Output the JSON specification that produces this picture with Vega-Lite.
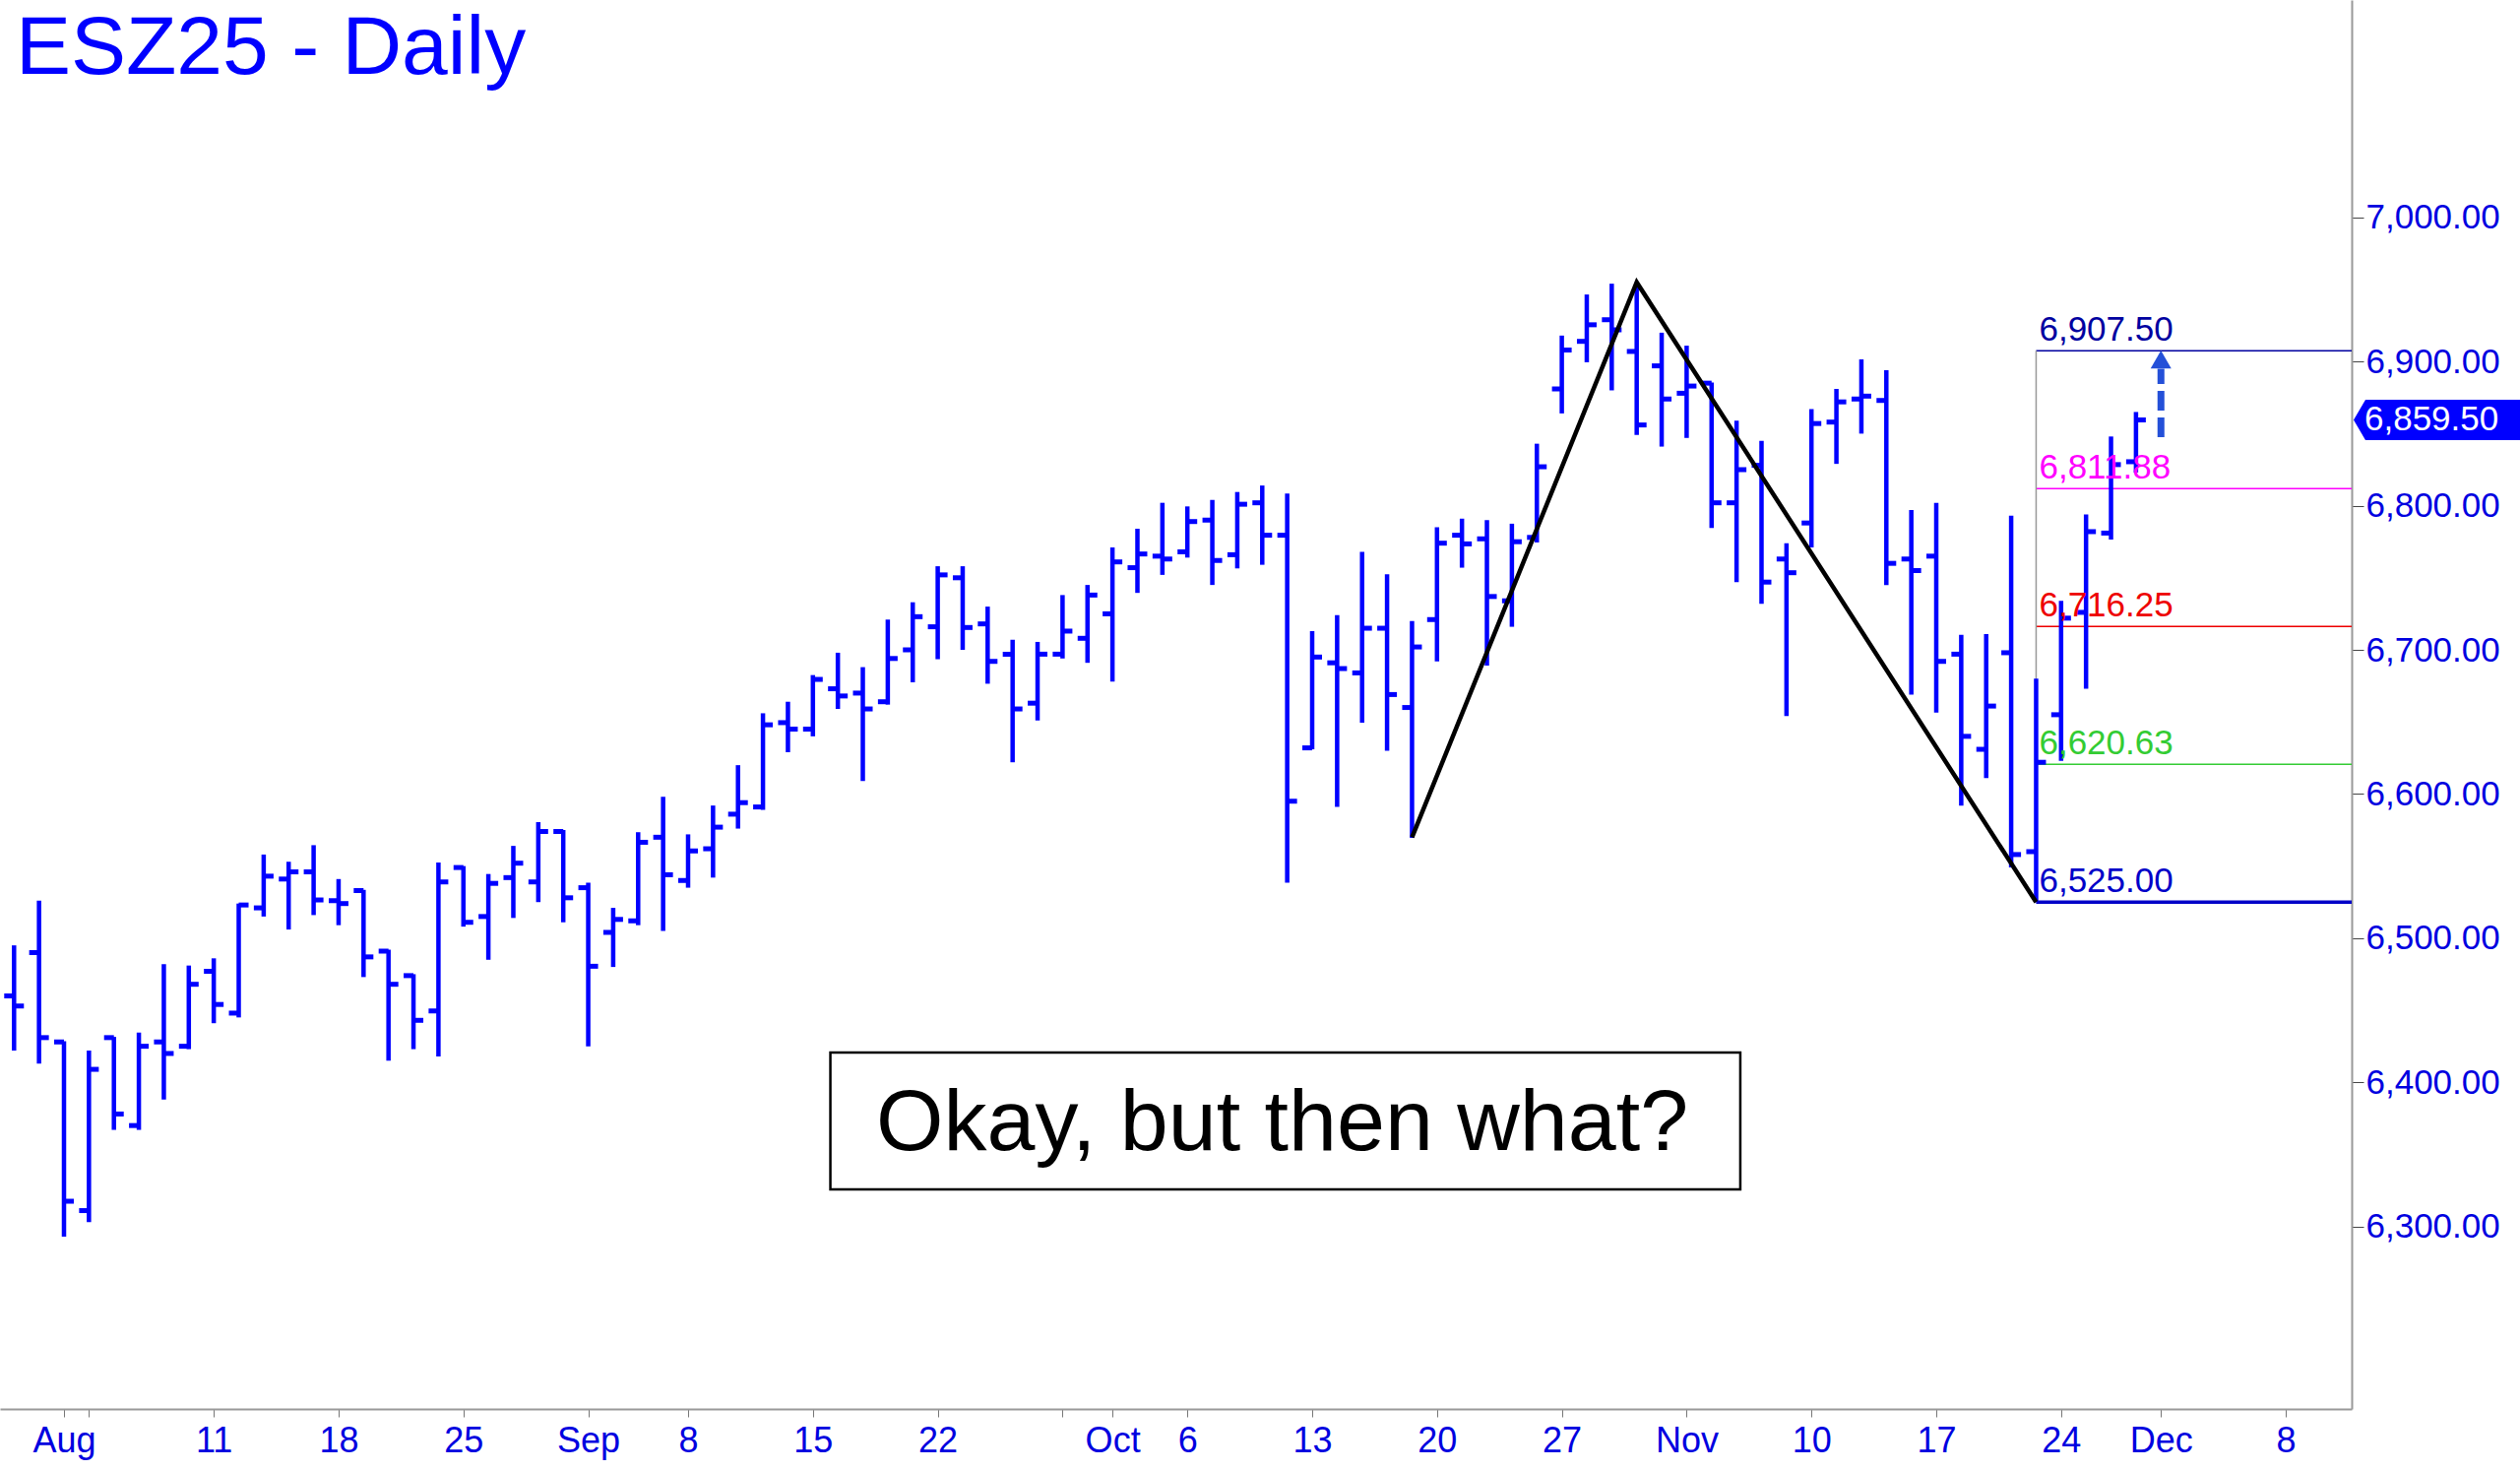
{
  "$schema": "https://vega.github.io/schema/vega-lite/v6.json",
  "width": 2389,
  "height": 1431,
  "autosize": {"type": "none"},
  "padding": {"left": 0, "top": 0, "right": 171, "bottom": 62},
  "background": "white",
  "config": {"view": {"stroke": null}, "font": "Liberation Sans"},
  "datasets": {
    "bars": [
      {"n": -2, "o": 6460, "h": 6495, "l": 6422, "c": 6453},
      {"n": -1, "o": 6490, "h": 6526, "l": 6413, "c": 6431},
      {"n": 0, "o": 6428, "h": 6428.5, "l": 6293, "c": 6317.5},
      {"n": 1, "o": 6311, "h": 6422, "l": 6303, "c": 6409},
      {"n": 2, "o": 6431, "h": 6431.5, "l": 6367, "c": 6378},
      {"n": 3, "o": 6370, "h": 6434.5, "l": 6367, "c": 6425},
      {"n": 4, "o": 6428, "h": 6482, "l": 6388, "c": 6420},
      {"n": 5, "o": 6425, "h": 6481, "l": 6423, "c": 6468},
      {"n": 6, "o": 6477, "h": 6486, "l": 6441, "c": 6454},
      {"n": 7, "o": 6448, "h": 6524, "l": 6445, "c": 6523},
      {"n": 8, "o": 6521, "h": 6558, "l": 6515, "c": 6543},
      {"n": 9, "o": 6541, "h": 6553, "l": 6506, "c": 6546},
      {"n": 10, "o": 6546, "h": 6564.5, "l": 6516, "c": 6526.5},
      {"n": 11, "o": 6526, "h": 6541, "l": 6509, "c": 6524},
      {"n": 12, "o": 6533, "h": 6533.5, "l": 6473, "c": 6487},
      {"n": 13, "o": 6491, "h": 6492, "l": 6415, "c": 6468},
      {"n": 14, "o": 6474, "h": 6475, "l": 6423, "c": 6443},
      {"n": 15, "o": 6449.5, "h": 6552.5, "l": 6418, "c": 6539},
      {"n": 16, "o": 6549, "h": 6550, "l": 6508, "c": 6511},
      {"n": 17, "o": 6515, "h": 6544.5, "l": 6485, "c": 6538},
      {"n": 18, "o": 6542, "h": 6564, "l": 6514, "c": 6552},
      {"n": 19, "o": 6539, "h": 6580.5, "l": 6525, "c": 6574},
      {"n": 20, "o": 6574, "h": 6575, "l": 6511, "c": 6528},
      {"n": 21, "o": 6535, "h": 6538.5, "l": 6425, "c": 6480.5},
      {"n": 22, "o": 6504, "h": 6521, "l": 6480, "c": 6513},
      {"n": 23, "o": 6512, "h": 6573.5, "l": 6509, "c": 6566.5},
      {"n": 24, "o": 6570, "h": 6598, "l": 6505, "c": 6544},
      {"n": 25, "o": 6540, "h": 6572, "l": 6535, "c": 6560.5},
      {"n": 26, "o": 6562, "h": 6592, "l": 6542, "c": 6577},
      {"n": 27, "o": 6586, "h": 6620, "l": 6576, "c": 6594},
      {"n": 28, "o": 6591, "h": 6656, "l": 6589, "c": 6648},
      {"n": 29, "o": 6649.5, "h": 6664, "l": 6629, "c": 6645},
      {"n": 30, "o": 6645, "h": 6682.5, "l": 6640, "c": 6679.5},
      {"n": 31, "o": 6673, "h": 6698, "l": 6659, "c": 6668},
      {"n": 32, "o": 6670, "h": 6688, "l": 6609, "c": 6659},
      {"n": 33, "o": 6664, "h": 6721, "l": 6662, "c": 6694},
      {"n": 34, "o": 6700, "h": 6733, "l": 6677.5, "c": 6723},
      {"n": 35, "o": 6716, "h": 6758, "l": 6693.5, "c": 6752},
      {"n": 36, "o": 6750, "h": 6758, "l": 6700, "c": 6715.5},
      {"n": 37, "o": 6718, "h": 6730, "l": 6676.5, "c": 6692},
      {"n": 38, "o": 6697, "h": 6707, "l": 6622, "c": 6659},
      {"n": 39, "o": 6663, "h": 6705.5, "l": 6651, "c": 6697},
      {"n": 40, "o": 6697, "h": 6738, "l": 6694, "c": 6713},
      {"n": 41, "o": 6708, "h": 6745, "l": 6691, "c": 6738},
      {"n": 42, "o": 6725, "h": 6771, "l": 6678, "c": 6761},
      {"n": 43, "o": 6757, "h": 6784, "l": 6739.5, "c": 6766.5},
      {"n": 44, "o": 6765, "h": 6802, "l": 6752, "c": 6763},
      {"n": 45, "o": 6768, "h": 6799.5, "l": 6764, "c": 6789},
      {"n": 46, "o": 6790, "h": 6804, "l": 6745, "c": 6762},
      {"n": 47, "o": 6766, "h": 6809.5, "l": 6756.5, "c": 6801},
      {"n": 48, "o": 6802, "h": 6814, "l": 6759, "c": 6779.5},
      {"n": 49, "o": 6779.5, "h": 6808.5, "l": 6538.5, "c": 6595},
      {"n": 50, "o": 6632, "h": 6713, "l": 6631, "c": 6695},
      {"n": 51, "o": 6691, "h": 6724, "l": 6591, "c": 6687},
      {"n": 52, "o": 6684, "h": 6768, "l": 6649.5, "c": 6715},
      {"n": 53, "o": 6715, "h": 6752.5, "l": 6630, "c": 6669},
      {"n": 54, "o": 6660, "h": 6720, "l": 6569.5, "c": 6702},
      {"n": 55, "o": 6721, "h": 6785, "l": 6692, "c": 6774},
      {"n": 56, "o": 6779.5, "h": 6791, "l": 6757, "c": 6773.5},
      {"n": 57, "o": 6777, "h": 6790, "l": 6689, "c": 6737},
      {"n": 58, "o": 6734, "h": 6787.5, "l": 6716, "c": 6775},
      {"n": 59, "o": 6778, "h": 6843, "l": 6774.5, "c": 6827},
      {"n": 60, "o": 6881, "h": 6918, "l": 6864, "c": 6908},
      {"n": 61, "o": 6914, "h": 6946.5, "l": 6899.5, "c": 6925.5},
      {"n": 62, "o": 6929, "h": 6954, "l": 6880, "c": 6922},
      {"n": 63, "o": 6907, "h": 6955, "l": 6849, "c": 6856},
      {"n": 64, "o": 6897, "h": 6920, "l": 6841, "c": 6874},
      {"n": 65, "o": 6878, "h": 6911, "l": 6847, "c": 6883},
      {"n": 66, "o": 6885, "h": 6885.5, "l": 6784.5, "c": 6802},
      {"n": 67, "o": 6802, "h": 6859, "l": 6747, "c": 6825},
      {"n": 68, "o": 6828, "h": 6845, "l": 6732, "c": 6747},
      {"n": 69, "o": 6763, "h": 6774, "l": 6654, "c": 6753.5},
      {"n": 70, "o": 6788, "h": 6867, "l": 6771, "c": 6857},
      {"n": 71, "o": 6858, "h": 6881, "l": 6829, "c": 6872},
      {"n": 72, "o": 6874, "h": 6901.5, "l": 6850, "c": 6876},
      {"n": 73, "o": 6873, "h": 6894, "l": 6745, "c": 6760},
      {"n": 74, "o": 6763, "h": 6797, "l": 6669, "c": 6755},
      {"n": 75, "o": 6765, "h": 6802, "l": 6656.5, "c": 6692},
      {"n": 76, "o": 6697, "h": 6710.5, "l": 6592, "c": 6640},
      {"n": 77, "o": 6631, "h": 6711, "l": 6611, "c": 6661},
      {"n": 78, "o": 6698, "h": 6793, "l": 6549, "c": 6558},
      {"n": 79, "o": 6560, "h": 6680, "l": 6525, "c": 6622},
      {"n": 80, "o": 6655, "h": 6734, "l": 6623, "c": 6722},
      {"n": 81, "o": 6726, "h": 6794, "l": 6673, "c": 6782},
      {"n": 82, "o": 6781, "h": 6848, "l": 6776.5, "c": 6828.5},
      {"n": 83, "o": 6830.5, "h": 6865, "l": 6823, "c": 6859.5}
    ],
    "levels": [
      {"name": "target", "start": 79, "v": 6907.5},
      {"name": "upper", "start": 79, "v": 6811.88},
      {"name": "middle", "start": 79, "v": 6716.25},
      {"name": "lower", "start": 79, "v": 6620.63},
      {"name": "low", "start": 79, "v": 6525}
    ],
    "zig": [
      {"ord": 1, "n": 54, "p": 6570},
      {"ord": 2, "n": 63, "p": 6955},
      {"ord": 3, "n": 79, "p": 6525}
    ],
    "proj": [{"n": 84, "from": 6847.5, "to": 6895, "target": 6907.5}],
    "note": [{"x0": 30.7, "x1": 67.15, "top": 6420.6, "bot": 6325.7, "cx": 48.8, "base": 6352.8, "txt": "Okay, but then what?"}],
    "heading": [{"n": -1.932, "p": 7099.6, "txt": "ESZ25 - Daily"}]
  },
  "layer": [
    {
      "data": {"name": "levels"},
      "mark": {"type": "rule"},
      "encoding": {
        "x": {"field": "start", "type": "quantitative",
          "scale": {"domain": [-2.563, 91.64], "nice": false, "zero": false},
          "axis": {"orient": "bottom", "values": [0, 1, 6, 11, 16, 21, 25, 30, 35, 40, 42, 45, 50, 55, 60, 65, 70, 75, 80, 84, 89],
            "labelExpr": "['Aug','','11','18','25','Sep','8','15','22','','Oct','6','13','20','27','Nov','10','17','24','Dec','8'][indexof([0,1,6,11,16,21,25,30,35,40,42,45,50,55,60,65,70,75,80,84,89], datum.value)]",
            "title": null, "grid": false, "labelFontSize": 36, "labelColor": "#0000E0", "labelFont": "Liberation Sans",
            "labelPadding": 7, "tickSize": 8, "tickColor": "#777777", "tickWidth": 1, "domainColor": "#999999", "domainWidth": 2,
            "labelOverlap": false, "labelFlush": false, "labelBound": false,
            "encode": {"ticks": {"update": {"y2": {"signal": "indexof([0,21,42,65,84], datum.value) >= 0 ? 19 : 8"}}}}}},
        "x2": {"value": "width"},
        "y": {"field": "v", "type": "quantitative",
          "scale": {"domain": [6173.4, 7150.8], "nice": false, "zero": false},
          "axis": {"orient": "right", "values": [6300, 6400, 6500, 6600, 6700, 6800, 6900, 7000], "format": ",.2f",
            "title": null, "grid": false, "labelFontSize": 35, "labelColor": "#0000E0", "labelFont": "Liberation Sans",
            "tickSize": 12, "tickColor": "#444444", "tickWidth": 1, "domainColor": "#999999", "domainWidth": 2,
            "labelPadding": 2, "labelBound": false, "labelFlush": false, "labelOverlap": false}},
        "color": {"field": "name", "type": "nominal", "legend": null,
          "scale": {"domain": ["target", "upper", "middle", "lower", "low"], "range": ["#0000A0", "#FF00FF", "#EE0000", "#33CC33", "#0000C8"]}},
        "strokeWidth": {"condition": {"test": "datum.name === 'low'", "value": 3.5}, "value": 1.5}
      }
    },
    {
      "data": {"values": [{"n": 79, "lo": 6525, "hi": 6907.5}]},
      "mark": {"type": "rule", "color": "#999999", "strokeWidth": 1.5},
      "encoding": {
        "x": {"field": "n", "type": "quantitative"},
        "y": {"field": "lo", "type": "quantitative"},
        "y2": {"field": "hi"}
      }
    },
    {
      "data": {"name": "bars"},
      "mark": {"type": "rule", "color": "#0000FF", "strokeWidth": 4.5},
      "encoding": {
        "x": {"field": "n", "type": "quantitative"},
        "y": {"field": "l", "type": "quantitative"},
        "y2": {"field": "h"}
      }
    },
    {
      "data": {"name": "bars"},
      "mark": {"type": "tick", "orient": "horizontal", "size": 10, "thickness": 5, "xOffset": -5, "color": "#0000FF", "opacity": 1},
      "encoding": {
        "x": {"field": "n", "type": "quantitative"},
        "y": {"field": "o", "type": "quantitative"}
      }
    },
    {
      "data": {"name": "bars"},
      "mark": {"type": "tick", "orient": "horizontal", "size": 10, "thickness": 5, "xOffset": 5, "color": "#0000FF", "opacity": 1},
      "encoding": {
        "x": {"field": "n", "type": "quantitative"},
        "y": {"field": "c", "type": "quantitative"}
      }
    },
    {
      "data": {"name": "zig"},
      "mark": {"type": "line", "color": "#000000", "strokeWidth": 4.5},
      "encoding": {
        "x": {"field": "n", "type": "quantitative"},
        "y": {"field": "p", "type": "quantitative"},
        "order": {"field": "ord"}
      }
    },
    {
      "data": {"name": "proj"},
      "mark": {"type": "rule", "color": "#2450D8", "strokeWidth": 7, "strokeDash": [20, 7]},
      "encoding": {
        "x": {"field": "n", "type": "quantitative"},
        "y": {"field": "from", "type": "quantitative"},
        "y2": {"field": "to"}
      }
    },
    {
      "data": {"name": "proj"},
      "mark": {"type": "point", "shape": "triangle-up", "size": 441, "filled": true, "opacity": 1, "color": "#2450D8", "yOffset": 9},
      "encoding": {
        "x": {"field": "n", "type": "quantitative"},
        "y": {"field": "target", "type": "quantitative"}
      }
    },
    {
      "data": {"name": "levels"},
      "mark": {"type": "text", "align": "left", "baseline": "alphabetic", "dx": 3, "dy": -10, "fontSize": 35, "font": "Liberation Sans"},
      "encoding": {
        "x": {"field": "start", "type": "quantitative"},
        "y": {"field": "v", "type": "quantitative"},
        "text": {"field": "v", "type": "quantitative", "format": ",.2f"},
        "color": {"field": "name", "type": "nominal", "legend": null}
      }
    },
    {
      "data": {"name": "note"},
      "mark": {"type": "rect", "fill": "white", "stroke": "#000000", "strokeWidth": 2.5},
      "encoding": {
        "x": {"field": "x0", "type": "quantitative"},
        "x2": {"field": "x1"},
        "y": {"field": "top", "type": "quantitative"},
        "y2": {"field": "bot"}
      }
    },
    {
      "data": {"name": "note"},
      "mark": {"type": "text", "align": "center", "baseline": "alphabetic", "fontSize": 88, "font": "Liberation Sans", "color": "#000000"},
      "encoding": {
        "x": {"field": "cx", "type": "quantitative"},
        "y": {"field": "base", "type": "quantitative"},
        "text": {"field": "txt", "type": "nominal"}
      }
    },
    {
      "data": {"name": "heading"},
      "mark": {"type": "text", "align": "left", "baseline": "alphabetic", "fontSize": 84, "font": "Liberation Sans", "color": "#0000FF"},
      "encoding": {
        "x": {"field": "n", "type": "quantitative"},
        "y": {"field": "p", "type": "quantitative"},
        "text": {"field": "txt", "type": "nominal"}
      }
    },
    {
      "data": {"name": "bars"},
      "transform": [{"filter": "datum.n === 83"}],
      "mark": {"type": "point", "shape": "M-1,0L-0.858,-0.2426L1,-0.2426L1,0.2426L-0.858,0.2426Z", "size": 28561, "filled": true, "opacity": 1, "color": "#0000FF", "xOffset": 86.5, "clip": false},
      "encoding": {
        "x": {"value": "width"},
        "y": {"field": "c", "type": "quantitative"}
      }
    },
    {
      "data": {"name": "bars"},
      "transform": [{"filter": "datum.n === 83"}],
      "mark": {"type": "text", "align": "left", "baseline": "middle", "dx": 13, "fontSize": 35, "font": "Liberation Sans", "color": "#FFFFFF"},
      "encoding": {
        "x": {"value": "width"},
        "y": {"field": "c", "type": "quantitative"},
        "text": {"field": "c", "type": "quantitative", "format": ",.2f"}
      }
    }
  ]
}
